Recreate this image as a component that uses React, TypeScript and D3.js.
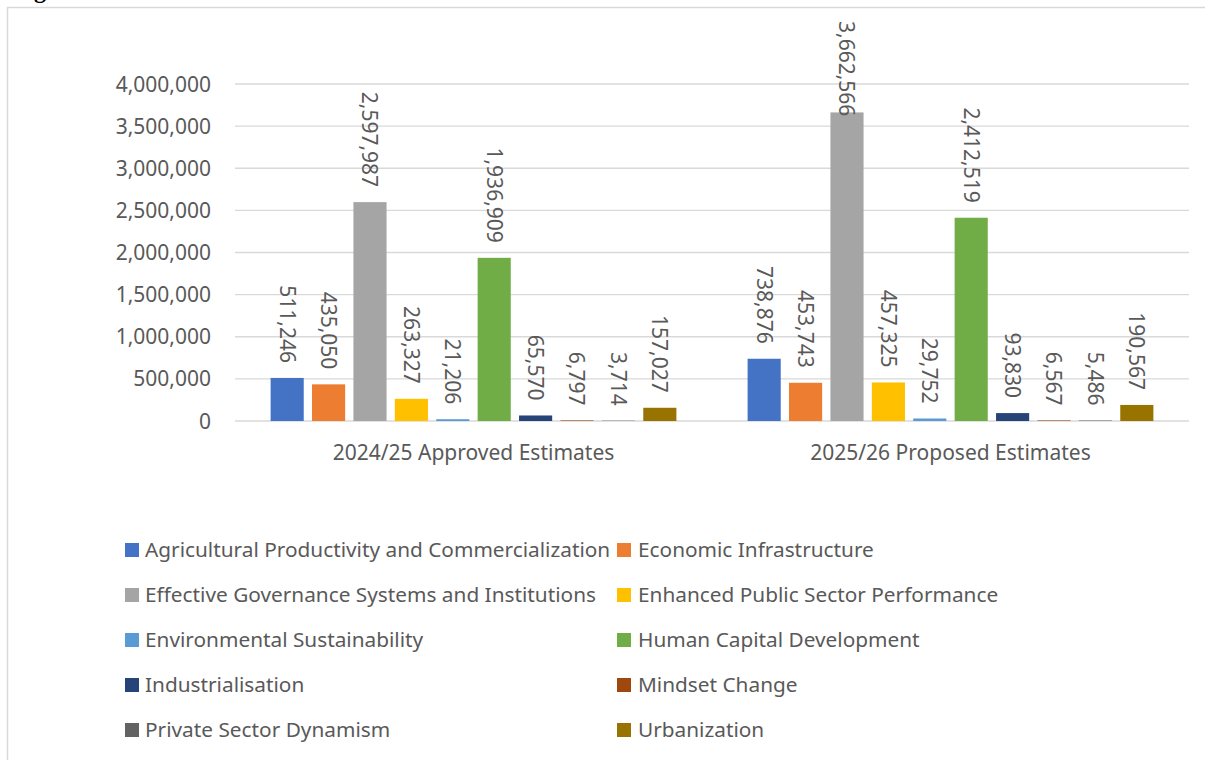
import React, { useEffect, useRef } from "react";
import * as d3 from "d3";

const categories = ["2024/25 Approved Estimates", "2025/26 Proposed Estimates"];
const seriesNames = [
  "Agricultural Productivity and Commercialization",
  "Economic Infrastructure",
  "Effective Governance Systems and Institutions",
  "Enhanced Public Sector Performance",
  "Environmental Sustainability",
  "Human Capital Development",
  "Industrialisation",
  "Mindset Change",
  "Private Sector Dynamism",
  "Urbanization",
];
const values2024 = [511246, 435050, 2597987, 263327, 21206, 1936909, 65570, 6797, 3714, 157027];
const values2025 = [738876, 453743, 3662566, 457325, 29752, 2412519, 93830, 6567, 5486, 190567];
const seriesColors = [
  "#4472C4", "#ED7D31", "#A5A5A5", "#FFC000", "#5B9BD5",
  "#70AD47", "#264478", "#9E480E", "#636363", "#997300",
];
const yTicks = [0, 500000, 1000000, 1500000, 2000000, 2500000, 3000000, 3500000, 4000000];

const W = 1205;
const H = 760;
const FONT = "'Noto Sans', sans-serif";
const TEXT = "#595959";
const GRID = "#D9D9D9";

export default function App() {
  const ref = useRef<SVGSVGElement | null>(null);

  useEffect(() => {
    const svg = d3.select(ref.current);
    svg.selectAll("*").remove();

    const plotL = 235, plotR = 1189, plotT = 84, plotB = 421;
    const y = d3.scaleLinear().domain([0, 4000000]).range([plotB, plotT]);
    const x0 = d3.scaleBand<string>().domain(categories).range([plotL, plotR]).paddingInner(0).paddingOuter(0);
    const x1 = d3.scaleBand<string>().domain(seriesNames).range([0, x0.bandwidth()]).paddingInner(0.2).paddingOuter(0.86);
    const valuesByCat = [values2024, values2025];

    // chart border
    svg.append("path")
      .attr("d", `M7.5,${H} L7.5,7.5 L${W},7.5`)
      .attr("fill", "none").attr("stroke", GRID).attr("stroke-width", 1.5);

    // partial heading glyph above chart (cut off in the reference too)
    svg.append("text").attr("x", 34).attr("y", -2)
      .attr("font-family", "'Liberation Serif', serif").attr("font-weight", "bold")
      .attr("font-size", 24).attr("fill", "#000").text("g");

    // gridlines
    svg.append("g").selectAll("line").data(yTicks).join("line")
      .attr("x1", plotL).attr("x2", plotR)
      .attr("y1", (d) => y(d)).attr("y2", (d) => y(d))
      .attr("stroke", GRID).attr("stroke-width", 1.4);

    // y tick labels
    const fmt = d3.format(",");
    svg.append("g").selectAll("text").data(yTicks).join("text")
      .attr("x", 211).attr("y", (d) => y(d)).attr("dy", "0.36em")
      .attr("text-anchor", "end").attr("font-family", FONT).attr("font-size", 21)
      .attr("fill", TEXT).text((d) => fmt(d));

    // bars and labels
    categories.forEach((cat, ci) => {
      const g = svg.append("g").attr("transform", `translate(${x0(cat)},0)`);
      const vals = valuesByCat[ci];
      g.selectAll("rect").data(vals).join("rect")
        .attr("x", (_, i) => x1(seriesNames[i])!)
        .attr("width", x1.bandwidth())
        .attr("y", (d) => y(d))
        .attr("height", (d) => Math.max(plotB - y(d), 0))
        .attr("fill", (_, i) => seriesColors[i]);

      vals.forEach((v, i) => {
        const cx = x1(seriesNames[i])! + x1.bandwidth() / 2;
        const top = y(v);
        const t = g.append("text")
          .attr("font-family", FONT).attr("font-size", 21).attr("fill", TEXT)
          .attr("dy", "0.36em")
          .text(fmt(v));
        const len = (t.node() as SVGTextElement).getComputedTextLength();
        let endY = top - 15;
        if (endY - len < 21) endY = 21 + len;
        t.attr("text-anchor", "end")
          .attr("transform", `translate(${cx},${endY}) rotate(90)`);
      });
    });

    // category labels
    svg.append("g").selectAll("text").data(categories).join("text")
      .attr("x", (d) => x0(d)! + x0.bandwidth() / 2).attr("y", 460)
      .attr("text-anchor", "middle").attr("font-family", FONT).attr("font-size", 21)
      .attr("fill", TEXT).text((d) => d);

    // legend
    const leg = svg.append("g");
    seriesNames.forEach((name, i) => {
      const row = Math.floor(i / 2);
      const col = i % 2;
      const base = 557 + row * 45;
      const sx = col === 0 ? 125 : 617;
      const tx = col === 0 ? 145 : 638;
      leg.append("rect").attr("x", sx).attr("y", base - 14).attr("width", 14).attr("height", 14)
        .attr("fill", seriesColors[i]);
      leg.append("text").attr("x", tx).attr("y", base)
        .attr("font-family", FONT).attr("font-size", 20.8).attr("fill", TEXT).text(name);
    });
  }, []);

  return (
    <svg
      ref={ref}
      width={W}
      height={H}
      style={{ position: "absolute", left: 0, top: 0, background: "#fff" }}
    />
  );
}
